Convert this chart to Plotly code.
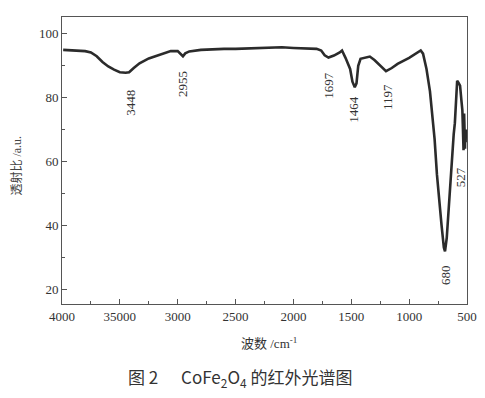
import plotly.graph_objects as go

# ---- data ----
wavenumber = [3990, 3900, 3800, 3750, 3700, 3650, 3600, 3550, 3500, 3450, 3420, 3380, 3330,
              3250, 3150, 3060, 3000, 2975, 2955, 2935, 2900, 2800, 2700, 2600, 2500, 2400,
              2300, 2200, 2100, 2000, 1900, 1800, 1760, 1730, 1697, 1650, 1600, 1580, 1550,
              1510, 1490, 1470, 1455, 1440, 1420, 1380, 1340, 1300, 1250, 1200, 1150, 1100,
              1000, 950, 900, 880, 850, 820, 800, 780, 760, 740, 720, 700, 690, 675, 660,
              645, 630, 615, 605, 600, 595, 585, 575, 560, 548, 540, 535, 530, 527, 525,
              522, 520, 517, 515, 512, 510]
transmittance = [95.0, 94.9, 94.6, 94.2, 93.0, 91.2, 89.8, 88.8, 88.0, 87.8, 88.0, 89.3, 90.8,
                 92.3, 93.6, 94.6, 94.6, 93.8, 93.0, 93.9, 94.5, 95.0, 95.2, 95.3, 95.3, 95.4,
                 95.6, 95.8, 95.8, 95.6, 95.4, 95.3, 94.8, 93.3, 92.6, 93.2, 94.2, 94.8, 92.5,
                 89.0, 85.0, 83.3, 84.5, 90.0, 92.2, 92.6, 92.9, 91.8, 90.0, 88.3, 89.3, 90.6,
                 92.5, 93.6, 94.8, 93.8, 89.0, 82.0, 75.0, 67.0, 56.0, 47.0, 40.0, 33.0, 31.8,
                 36.0, 44.5, 55.0, 63.5, 68.5, 72.0, 76.0, 81.0, 85.3, 84.8, 83.8, 79.0, 76.0,
                 70.0, 63.5, 66.0, 75.0, 68.0, 72.0, 64.0, 70.0, 66.0, 70.0]

peak_labels = ["3448", "2955", "1697", "1464", "1197", "680", "527"]
peak_label_x = [3409, 2953, 1700, 1477, 1186, 682, 560]
peak_label_y = [78.5, 84.3, 83.8, 76.5, 80.1, 24.4, 55.1]

x_tickvals = [4000, 3500, 3000, 2500, 2000, 1500, 1000, 500]
x_ticktext = ["4000", "35000", "3000", "2500", "2000", "1500", "1000", "500"]
y_tickvals = [20, 40, 60, 80, 100]
y_ticktext = ["20", "40", "60", "80", "100"]

x_title = "波数 /cm<sup>-1</sup>"
y_title = "透射比 /a.u."
caption = "图 2      CoFe<sub>2</sub>O<sub>4</sub> 的红外光谱图"

SERIF = "Liberation Serif, Times New Roman, serif"
CJK_SERIF = "Liberation Serif, Noto Sans CJK SC, serif"

fig = go.Figure()
fig.add_trace(go.Scatter(
    x=wavenumber, y=transmittance, mode="lines",
    line=dict(color="#2b2b2b", width=2.6),
    hoverinfo="skip", showlegend=False,
))

annotations = []
for t, xv, yv in zip(peak_labels, peak_label_x, peak_label_y):
    annotations.append(dict(
        x=xv, y=yv, xref="x", yref="y", text=t, showarrow=False, textangle=-90,
        font=dict(family=SERIF, size=13, color="#333333"),
    ))

annotations.append(dict(
    x=0.511, y=-0.135, xref="paper", yref="paper", text=x_title, showarrow=False,
    font=dict(family=CJK_SERIF, size=13, color="#333333"), xanchor="center", yanchor="middle",
))
annotations.append(dict(
    x=-0.112, y=0.481, xref="paper", yref="paper", text=y_title, showarrow=False,
    textangle=-90, font=dict(family=CJK_SERIF, size=12, color="#444444"),
    xanchor="center", yanchor="middle",
))
annotations.append(dict(
    x=0.439, y=-0.257, xref="paper", yref="paper", text=caption, showarrow=False,
    font=dict(family="Noto Sans CJK SC, Noto Sans, sans-serif", size=17, color="#333333"),
    xanchor="center", yanchor="middle",
))

axis_common = dict(
    showgrid=False, zeroline=False, showline=True, linecolor="#555555", linewidth=1,
    mirror=True, ticks="inside", ticklen=5, tickcolor="#555555", tickwidth=1,
    tickfont=dict(family=SERIF, size=13, color="#333333"),
)

# the page body adds an 8px margin, so the figure is 8px smaller and margins shifted
fig.update_layout(
    width=477, height=390,
    margin=dict(l=54, r=13, t=8, b=94),
    paper_bgcolor="white", plot_bgcolor="white",
    xaxis=dict(range=[4000, 500], tickmode="array", tickvals=x_tickvals, ticktext=x_ticktext,
               minor=dict(ticks="inside", dtick=250, ticklen=3, tickcolor="#555555"),
               **axis_common),
    yaxis=dict(range=[15.3, 105.3], tickmode="array", tickvals=y_tickvals, ticktext=y_ticktext,
               minor=dict(ticks="inside", tickvals=[30, 50, 70, 90], ticklen=3, tickcolor="#555555"),
               **axis_common),
    annotations=annotations,
)

fig.write_html("out.html")
